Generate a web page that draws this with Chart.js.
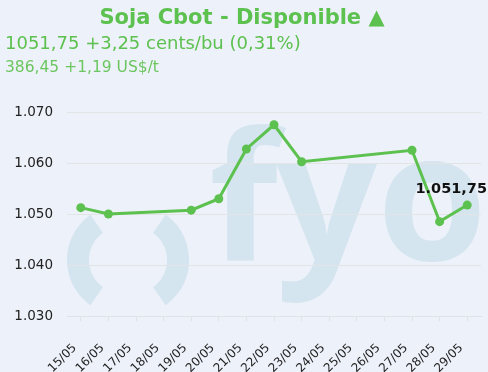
<!DOCTYPE html>
<html><head><meta charset="utf-8">
<script src="https://cdn.jsdelivr.net/npm/chart.js@4/dist/chart.umd.min.js"></script>
<style>html,body{margin:0;padding:0;background:#edf1f9;}#c{display:block;}</style>
</head><body>
<canvas id="c" width="488" height="372"></canvas>
<script>
const categories = ["15/05","16/05","17/05","18/05","19/05","20/05","21/05","22/05","23/05","24/05","25/05","26/05","27/05","28/05","29/05"];
const prices = [1051.25, 1050.0, null, null, 1050.75, 1053.0, 1062.75, 1067.5, 1060.25, null, null, null, 1062.5, 1048.5, 1051.75];
const yTicks = [1030, 1040, 1050, 1060, 1070];
const titleText = "Soja Cbot - Disponible ▲";
const line1Text = "1051,75 +3,25 cents/bu (0,31%)";
const line2Text = "386,45 +1,19 US$/t";
const lastLabel = "1.051,75";

const GREEN = "#5cc14f";
const fmt = v => v.toLocaleString('de-DE');

const decor = {
  id: 'decor',
  beforeDraw(chart) {
    const ctx = chart.ctx;
    ctx.save();
    ctx.fillStyle = '#edf1f9';
    ctx.fillRect(0, 0, chart.width, chart.height);
    // watermark
    ctx.strokeStyle = '#d5e5f0';
    ctx.fillStyle = '#d5e5f0';
    ctx.lineWidth = 22;
    ctx.beginPath(); ctx.arc(122.5, 260, 44.5, Math.PI - 0.95, Math.PI + 0.95); ctx.stroke();
    ctx.beginPath(); ctx.arc(133.5, 260, 44.5, -0.95, 0.95); ctx.stroke();
    ctx.font = 'bold 178px "Open Sans", sans-serif';
    ctx.textBaseline = 'alphabetic';
    ctx.textAlign = 'left';
    ctx.fillText('f', 209, 260);
    ctx.fillText('y', 276, 260);
    ctx.fillText('o', 377, 260);
    ctx.restore();
  },
  afterDraw(chart) {
    const ctx = chart.ctx;
    ctx.save();
    ctx.textAlign = 'center';
    ctx.textBaseline = 'alphabetic';
    ctx.fillStyle = GREEN;
    ctx.font = 'bold 21px "DejaVu Sans", Verdana, sans-serif';
    ctx.fillText(titleText, 242, 24);
    ctx.textAlign = 'left';
    ctx.font = '18px "DejaVu Sans", Verdana, sans-serif';
    ctx.fillText(line1Text, 5, 49);
    ctx.fillStyle = '#6cc660';
    ctx.font = '15.5px "DejaVu Sans", Verdana, sans-serif';
    ctx.fillText(line2Text, 5, 72);
    // last value label
    const meta = chart.getDatasetMeta(0);
    const pt = meta.data[meta.data.length - 1];
    ctx.fillStyle = '#111';
    ctx.font = 'bold 14.5px "DejaVu Sans", Verdana, sans-serif';
    ctx.textAlign = 'right';
    ctx.fillText(lastLabel, chart.width - 1, pt.y - 12.5);
    ctx.restore();
  }
};

new Chart(document.getElementById('c'), {
  type: 'line',
  data: {
    labels: categories,
    datasets: [{
      data: prices,
      borderColor: GREEN,
      backgroundColor: GREEN,
      borderWidth: 3,
      pointRadius: 4.5,
      pointBorderWidth: 0,
      pointBackgroundColor: GREEN,
      spanGaps: true,
      tension: 0
    }]
  },
  options: {
    responsive: false,
    animation: false,
    events: [],
    layout: { padding: { top: 112, right: 7, left: 0, bottom: 0 } },
    plugins: { legend: { display: false }, tooltip: { enabled: false } },
    scales: {
      x: {
        offset: true,
        grid: { drawOnChartArea: false, drawTicks: true, tickLength: 5, color: '#dfe2e6' },
        border: { color: '#dfe2e6' },
        ticks: { color: '#222', font: { family: '"DejaVu Sans", Verdana, sans-serif', size: 12 }, maxRotation: 45, minRotation: 45, autoSkip: false, padding: 20, labelOffset: -6 },
        afterFit(s) { s.height = 56; s.paddingLeft = 0; s.paddingRight = 0; s.paddingTop = 0; s.paddingBottom = 0; }
      },
      y: {
        min: 1030, max: 1070,
        afterBuildTicks(s) { s.ticks = yTicks.map(v => ({ value: v })); },
        grid: { color: '#e2e4e6', drawTicks: false },
        border: { display: false },
        ticks: { color: '#222', font: { family: '"DejaVu Sans", Verdana, sans-serif', size: 13.5 }, padding: 14, callback: v => fmt(v) },
        afterFit(s) { s.width = 67; s.paddingTop = 0; s.paddingBottom = 0; }
      }
    }
  },
  plugins: [decor]
});
</script>
</body></html>
